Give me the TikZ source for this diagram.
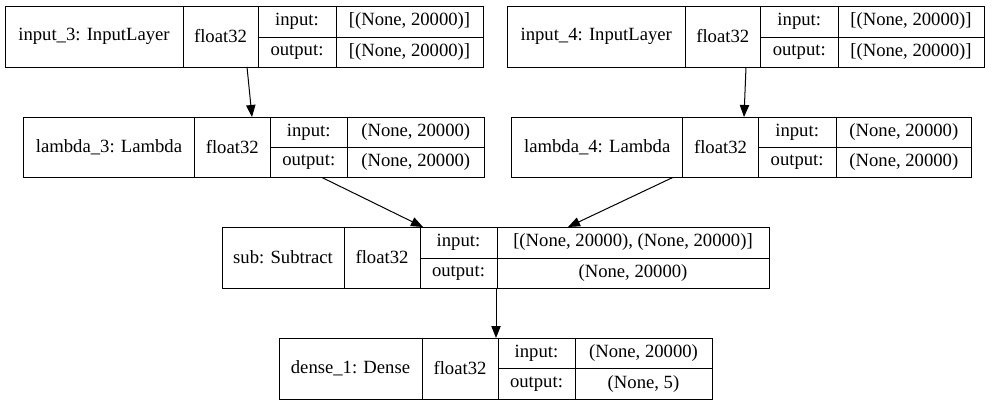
\documentclass[tikz,border=0pt]{standalone}
\usepackage{fontspec}
\setmainfont{Liberation Serif}
\usetikzlibrary{arrows.meta,calc}
\tikzset{
  cell/.style={draw=black, line width=0.75pt, inner sep=0pt, outer sep=0pt, rectangle, font=\fontsize{14pt}{16pt}\selectfont, anchor=center},
  edgearrow/.style={draw=black, line width=0.75pt, -{Triangle[length=9pt,width=7pt]}},
}
\newcommand\cellbox[6]{%
  \pgfmathsetmacro\cellw{(#4-#2)*0.75}%
  \pgfmathsetmacro\cellh{(#5-#3)*0.75}%
  \node[cell, minimum width=\cellw pt, minimum height=\cellh pt] (#1) at ({(#2+#4)/2},{(#3+#5)/2}) {#6};%
}
\begin{document}
\begin{tikzpicture}[x=0.75pt,y=-0.75pt]
\useasboundingbox (0,0) rectangle (992,405);
% input_3
\cellbox{iAname}{5}{6}{183}{67}{input\_3: InputLayer}
\cellbox{iAtype}{183}{6}{258}{67}{float32}
\cellbox{iAinl}{258}{6}{336}{37}{input:}
\cellbox{iAinv}{336}{6}{483}{37}{[(None, 20000)]}
\cellbox{iAoutl}{258}{37}{336}{67}{output:}
\cellbox{iAoutv}{336}{37}{483}{67}{[(None, 20000)]}
% input_4
\cellbox{iBname}{507.5}{6}{685}{67}{input\_4: InputLayer}
\cellbox{iBtype}{685}{6}{760.5}{67}{float32}
\cellbox{iBinl}{760.5}{6}{838}{37}{input:}
\cellbox{iBinv}{838}{6}{984}{37}{[(None, 20000)]}
\cellbox{iBoutl}{760.5}{37}{838}{67}{output:}
\cellbox{iBoutv}{838}{37}{984}{67}{[(None, 20000)]}
% lambda_3
\cellbox{lAname}{23.5}{117}{194.5}{177.5}{lambda\_3: Lambda}
\cellbox{lAtype}{194.5}{117}{270}{177.5}{float32}
\cellbox{lAinl}{270}{117}{347.5}{147.5}{input:}
\cellbox{lAinv}{347.5}{117}{484}{147.5}{(None, 20000)}
\cellbox{lAoutl}{270}{147.5}{347.5}{177.5}{output:}
\cellbox{lAoutv}{347.5}{147.5}{484}{177.5}{(None, 20000)}
% lambda_4
\cellbox{lBname}{511.7}{117}{682.7}{177.5}{lambda\_4: Lambda}
\cellbox{lBtype}{682.7}{117}{758.3}{177.5}{float32}
\cellbox{lBinl}{758.3}{117}{836}{147.5}{input:}
\cellbox{lBinv}{836}{117}{971.7}{147.5}{(None, 20000)}
\cellbox{lBoutl}{758.3}{147.5}{836}{177.5}{output:}
\cellbox{lBoutv}{836}{147.5}{971.7}{177.5}{(None, 20000)}
% sub
\cellbox{sname}{222}{227}{344}{288}{sub: Subtract}
\cellbox{stype}{344}{227}{420}{288}{float32}
\cellbox{sinl}{420}{227}{497}{258}{input:}
\cellbox{sinv}{497}{227}{769}{258}{[(None, 20000), (None, 20000)]}
\cellbox{soutl}{420}{258}{497}{288}{output:}
\cellbox{soutv}{497}{258}{769}{288}{(None, 20000)}
% dense_1
\cellbox{dname}{279}{338}{422}{399}{dense\_1: Dense}
\cellbox{dtype}{422}{338}{498}{399}{float32}
\cellbox{dinl}{498}{338}{575}{368.5}{input:}
\cellbox{dinv}{575}{338}{712}{368.5}{(None, 20000)}
\cellbox{doutl}{498}{368.5}{575}{399}{output:}
\cellbox{doutv}{575}{368.5}{712}{399}{(None, 5)}
% edges
\draw[edgearrow] ($(iAtype.south west)+(64,0)$) -- ($(lAtype.north west)+(57.5,0)$);
\draw[edgearrow] ($(iBtype.south west)+(61,0)$) -- ($(lBtype.north west)+(61.3,0)$);
\draw[edgearrow] ($(lAoutl.south west)+(52,0)$) -- ($(sinl.north west)+(3,0)$);
\draw[edgearrow] ($(lBname.south east)+(-10,0)$) -- ($(sinv.north west)+(71,0)$);
\draw[edgearrow] ($(soutl.south east)+(-1,0)$) -- ($(dtype.north east)+(-2,0)$);
\end{tikzpicture}
\end{document}
